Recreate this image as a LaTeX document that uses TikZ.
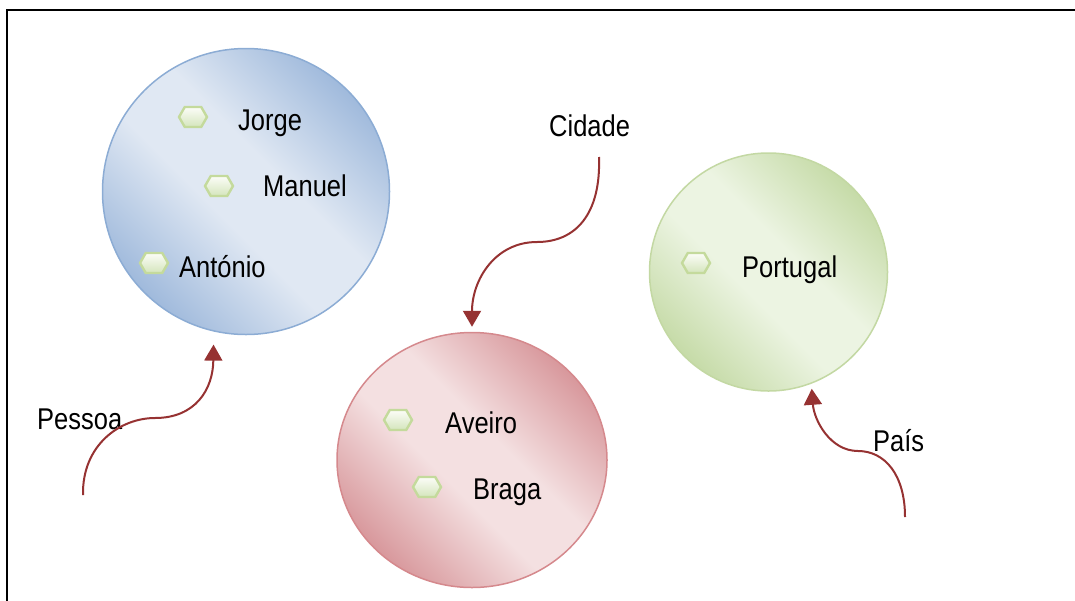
\documentclass[tikz,border=0pt]{standalone}
\usepackage{fontspec}
\setmainfont{Liberation Sans}[FakeStretch=0.85]
\usetikzlibrary{shapes.geometric,shapes.symbols,arrows.meta}
\definecolor{blueLight}{RGB}{224,232,243}
\definecolor{blueDark}{RGB}{160,186,220}
\definecolor{blueEdge}{RGB}{140,172,212}
\definecolor{redLight}{RGB}{244,224,225}
\definecolor{redDark}{RGB}{216,152,156}
\definecolor{redEdge}{RGB}{213,137,141}
\definecolor{greenLight}{RGB}{236,244,226}
\definecolor{greenDark}{RGB}{198,219,168}
\definecolor{greenEdge}{RGB}{195,216,163}
\definecolor{hexEdge}{RGB}{196,218,156}
\definecolor{hexTop}{RGB}{252,253,248}
\definecolor{hexBottom}{RGB}{212,229,188}
\definecolor{arrowRed}{RGB}{150,50,50}
\pgfdeclareverticalshading{blueSh}{100bp}{color(0bp)=(blueDark); color(25bp)=(blueDark); color(44bp)=(blueLight); color(56bp)=(blueLight); color(75bp)=(blueDark); color(100bp)=(blueDark)}
\pgfdeclareverticalshading{redSh}{100bp}{color(0bp)=(redDark); color(25bp)=(redDark); color(44bp)=(redLight); color(56bp)=(redLight); color(75bp)=(redDark); color(100bp)=(redDark)}
\pgfdeclareverticalshading{greenSh}{100bp}{color(0bp)=(greenDark); color(25bp)=(greenDark); color(44bp)=(greenLight); color(56bp)=(greenLight); color(75bp)=(greenDark); color(100bp)=(greenDark)}
\pgfdeclareverticalshading{hexSh}{100bp}{color(0bp)=(hexBottom); color(25bp)=(hexBottom); color(75bp)=(hexTop); color(100bp)=(hexTop)}
\begin{document}
\begin{tikzpicture}[x=1pt,y=-1pt,
  bubble/.style={ellipse, inner sep=0pt, line width=1.5pt},
  hexmark/.style={signal, signal to=west and east, signal pointer angle=120,
    minimum width=28pt, minimum height=20pt, inner sep=0pt, draw=hexEdge,
    line width=2.4pt, shade, shading=hexSh},
  lbl/.style={font=\fontsize{30}{36}\selectfont, anchor=base west, inner sep=0pt, text=black},
  link/.style={draw=arrowRed, line width=2pt, -{Triangle[width=18pt,length=16pt]}}
]
\useasboundingbox (0,0) rectangle (1075,600);
% frame
\draw[line width=2pt] (1076,10) -- (6.5,10) -- (6.5,601);

% circles
\node[bubble, draw=blueEdge, minimum width=287pt, minimum height=286pt,
  shade, shading=blueSh, shading angle=-45] (pessoa) at (246,191.5) {};
\node[bubble, draw=redEdge, minimum width=270pt, minimum height=255pt,
  shade, shading=redSh, shading angle=-45] (cidade) at (472,460) {};
\node[bubble, draw=greenEdge, minimum width=238pt, minimum height=238pt,
  shade, shading=greenSh, shading angle=-45] (pais) at (768.5,272) {};

% members
\node[hexmark] (hJorge) at (193,117) {};
\node[lbl] (tJorge) at (238,130) {Jorge};
\node[hexmark] (hManuel) at (219,186) {};
\node[lbl] (tManuel) at (263,196.5) {Manuel};
\node[hexmark] (hAntonio) at (154,263) {};
\node[lbl] (tAntonio) at (179,277) {António};
\node[hexmark] (hAveiro) at (398,420) {};
\node[lbl] (tAveiro) at (445,433) {Aveiro};
\node[hexmark] (hBraga) at (427,487) {};
\node[lbl] (tBraga) at (473,499) {Braga};
\node[hexmark] (hPortugal) at (696,263) {};
\node[lbl] (tPortugal) at (742,277) {Portugal};

% labels
\node[lbl] (lCidade) at (549,136) {Cidade};
\node[lbl] (lPessoa) at (37,429) {Pessoa};
\node[lbl] (lPais) at (873,451) {País};

% connectors
\coordinate (cStart) at (599,157);
\coordinate (cMid) at (537,242);
\draw[link, shorten >=5pt] (cStart) .. controls (601,215) and (575,242) .. (cMid)
  .. controls (495,242) and (472,280) .. (cidade.north);

\coordinate (pStart) at (83,495);
\coordinate (pMid) at (155,418);
\draw[link, shorten >=13pt] (pStart) .. controls (82,445) and (120,418) .. (pMid)
  .. controls (195,418) and (213,390) .. (pessoa.257.5);

\coordinate (gStart) at (905,517);
\coordinate (gMid) at (858,451);
\draw[link, shorten >=5pt] (gStart) .. controls (905,475) and (885,451) .. (gMid)
  .. controls (830,451) and (814,420) .. (pais.291.8);
\end{tikzpicture}
\end{document}
